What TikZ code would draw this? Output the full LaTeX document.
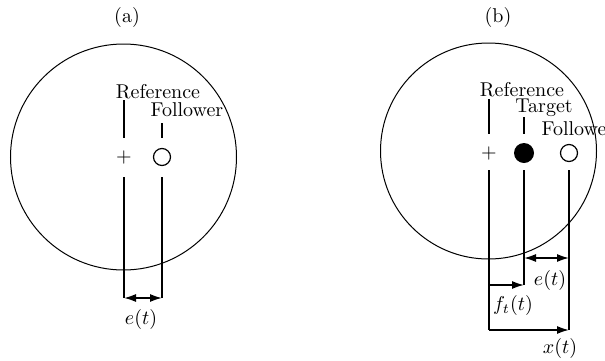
\documentclass[tikz,border=0pt]{standalone}
\usepackage{tikz}
\usetikzlibrary{arrows.meta}

\tikzset{
  bar/.style={line width=0.8pt},
  dim/.style={line width=0.8pt,-{Latex[length=6pt,width=4pt]}},
  dimboth/.style={line width=0.8pt,{Latex[length=6pt,width=4pt]}-{Latex[length=6pt,width=4pt]}},
  follow/.style={circle,draw,line width=0.6pt,inner sep=0pt,minimum size=8.5pt},
  target/.style={circle,fill=black,inner sep=0pt,minimum size=10pt}
}

\begin{document}
\begin{tikzpicture}[x=0.5pt,y=-0.5pt]
\useasboundingbox (0,0) rectangle (605,360);

\draw[line width=0.5pt] (123.5,157) circle (113);
\node (capa) at (127,17) {(a)};
\node (refa) at (158,92) {Reference};
\node (fola) at (187,110) {Follower};
\node[inner sep=0pt] (plusa) at (124,157) {$+$};
\node[follow] (dota) at (162,157) {};
\coordinate (ra1) at (124,100);
\coordinate (ra2) at (124,138);
\coordinate (ra3) at (124,177);
\coordinate (ra4) at (124,298);
\coordinate (fa1) at (162,123);
\coordinate (fa2) at (162,138);
\coordinate (fa3) at (162,177);
\coordinate (fa4) at (162,298);
\draw[bar] (ra1) -- (ra2);
\draw[bar] (fa1) -- (fa2);
\draw[bar] (ra3) -- (ra4);
\draw[bar] (fa3) -- (fa4);
\draw[dimboth] (ra4) -- (fa4);
\node (erra) at (141,319) {$e(t)$};

\draw[line width=0.5pt] (488.5,151) circle (108);
\node (capb) at (498,17) {(b)};
\node (refb) at (522,90) {Reference};
\node (tarb) at (544,108) {Target};
\node (folb) at (578,129) {Follower};
\node[inner sep=0pt] (plusb) at (489,153) {$+$};
\node[target] (dotb) at (524,153) {};
\node[follow] (folbdot) at (569,153) {};
\coordinate (rb1) at (489,99);
\coordinate (rb2) at (489,134);
\coordinate (rb3) at (489,170);
\coordinate (rb4) at (489,285);
\coordinate (rb5) at (489,330);
\coordinate (tb1) at (524,117);
\coordinate (tb2) at (524,134);
\coordinate (tb3) at (524,170);
\coordinate (tb4) at (524,258);
\coordinate (tb5) at (524,285);
\coordinate (fb3) at (569,170);
\coordinate (fb4) at (569,258);
\coordinate (fb5) at (569,330);
\draw[bar] (rb1) -- (rb2);
\draw[bar] (tb1) -- (tb2);
\draw[bar] (rb3) -- (rb5);
\draw[bar] (tb3) -- (tb5);
\draw[bar] (fb3) -- (fb5);
\draw[dimboth] (tb4) -- (fb4);
\draw[dim] (rb4) -- (tb5);
\draw[dim] (rb5) -- (fb5);
\node (errb) at (550,280) {$e(t)$};
\node (ftb) at (513,305) {$f_t(t)$};
\node (xb) at (560,348) {$x(t)$};
\end{tikzpicture}
\end{document}
